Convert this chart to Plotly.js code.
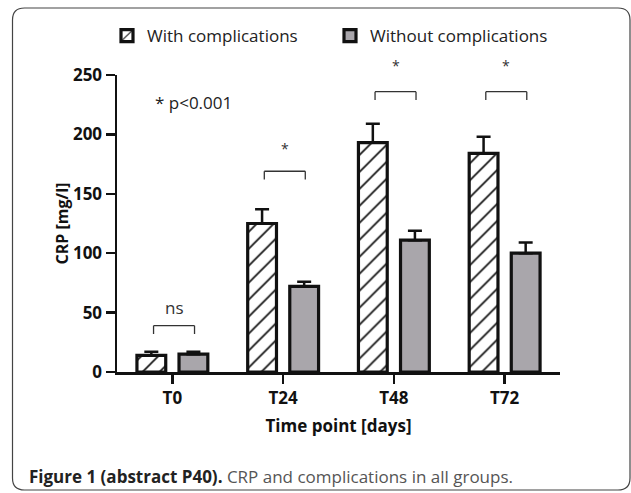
<!DOCTYPE html>
<html>
<head>
<meta charset="utf-8">
<script src="https://cdn.plot.ly/plotly-3.0.1.min.js"></script>
<style>html,body{margin:0;padding:0;background:#fff;}#chart{width:631px;height:493px;}</style>
</head>
<body>
<div id="chart"></div>
<script>
// ---- data ----
const categories = ["T0", "T24", "T48", "T72"];
const withComplications = [14, 125, 193, 184];
const withErr = [3, 12, 16, 14];
const withoutComplications = [15, 72, 111, 100];
const withoutErr = [2, 4, 8, 9];
const yTicks = [0, 50, 100, 150, 200, 250];
const sigLabels = ["ns", "*", "*", "*"];
const bracketY = [39, 169, 236, 236];
const sigLabelY = [54, 188, 258, 258];

// ---- layout helpers (pixel -> paper) ----
const W = 631, H = 493;
const M = {l: 117, r: 71, t: 75, b: 121};
const pw = W - M.l - M.r, ph = H - M.t - M.b;
const px = x => (x - M.l) / pw;
const py = y => (H - M.b - y) / ph;
const Y_MAX = 250;

const FONT = '"Open Sans", "Noto Sans", sans-serif';
const GRAY = '#a9a6ab';

const traces = [
  {
    type: 'bar', name: 'With complications',
    x: categories, y: withComplications,
    offset: -0.32, width: 0.26,
    marker: {color: '#ffffff', line: {color: '#111', width: 3.2},
             pattern: {shape: '/', fgcolor: '#111', bgcolor: '#ffffff', size: 12, solidity: 0.14}},
    error_y: {type: 'data', array: withErr, arrayminus: withErr.map(() => 0), symmetric: false,
              color: '#111', thickness: 2.5, width: 7},
    hoverinfo: 'y'
  },
  {
    type: 'bar', name: 'Without complications',
    x: categories, y: withoutComplications,
    offset: 0.06, width: 0.26,
    marker: {color: GRAY, line: {color: '#111', width: 3.2}},
    error_y: {type: 'data', array: withoutErr, arrayminus: withoutErr.map(() => 0), symmetric: false,
              color: '#111', thickness: 2.5, width: 7},
    hoverinfo: 'y'
  }
];

const shapes = [];
const annotations = [];
const bx0 = -0.17, bx1 = 0.2, leg = 7;
categories.forEach((c, i) => {
  const yb = bracketY[i];
  const ln = {color: '#333', width: 1.3};
  shapes.push({type: 'line', xref: 'x', yref: 'y', x0: i + bx0, x1: i + bx1, y0: yb, y1: yb, line: ln});
  shapes.push({type: 'line', xref: 'x', yref: 'y', x0: i + bx0, x1: i + bx0, y0: yb, y1: yb - leg, line: ln});
  shapes.push({type: 'line', xref: 'x', yref: 'y', x0: i + bx1, x1: i + bx1, y0: yb, y1: yb - leg, line: ln});
  // y given in paper units (value / max) so labels above the top of the axis are still drawn
  annotations.push({xref: 'x', yref: 'paper', x: i + (bx0 + bx1) / 2, y: sigLabelY[i] / Y_MAX, text: sigLabels[i],
    showarrow: false, xanchor: 'center', yanchor: 'middle',
    font: {family: FONT, size: sigLabels[i] === 'ns' ? 17 : 14, color: '#333'}});
});

annotations.push({xref: 'x', yref: 'paper', x: -0.175, y: 227 / Y_MAX, text: '* p<0.001', showarrow: false,
  xanchor: 'left', yanchor: 'middle', font: {family: FONT, size: 17, color: '#222'}});

annotations.push({xref: 'paper', yref: 'paper', x: px(27), y: py(476), xanchor: 'left', yanchor: 'middle',
  showarrow: false,
  text: '<b>Figure 1 (abstract P40).</b><span style="color:#555"> CRP and complications in all groups.</span>',
  font: {family: FONT, size: 17, color: '#222'}});

// rounded frame
const L = 12.5, T = 8, R = 630, B = 490, r = 12;
const P = (x, y) => px(x) + ',' + py(y);
shapes.push({type: 'path', xref: 'paper', yref: 'paper', layer: 'below',
  path: 'M' + P(L + r, T) + ' L' + P(R - r, T) + ' Q' + P(R, T) + ' ' + P(R, T + r) +
        ' L' + P(R, B - r) + ' Q' + P(R, B) + ' ' + P(R - r, B) +
        ' L' + P(L + r, B) + ' Q' + P(L, B) + ' ' + P(L, B - r) +
        ' L' + P(L, T + r) + ' Q' + P(L, T) + ' ' + P(L + r, T) + ' Z',
  line: {color: '#444', width: 1.2}, fillcolor: 'rgba(0,0,0,0)'});

const layout = {
  width: W, height: H,
  margin: M,
  paper_bgcolor: '#fff', plot_bgcolor: '#fff',
  font: {family: FONT, color: '#111'},
  showlegend: true,
  legend: {orientation: 'h', x: px(107), xanchor: 'left', y: py(36), yanchor: 'middle',
           font: {family: FONT, size: 17, color: '#222'}, itemwidth: 30, traceorder: 'normal',
           entrywidth: 178, entrywidthmode: 'pixels',
           bgcolor: 'rgba(0,0,0,0)'},
  xaxis: {
    type: 'category', range: [-0.5, 3.5], fixedrange: true,
    showline: true, linecolor: '#111', linewidth: 2.5,
    ticks: 'outside', ticklen: 9, tickwidth: 2.5, tickcolor: '#111',
    showgrid: false, zeroline: false,
    tickfont: {family: FONT, size: 17, color: '#111', weight: 'bold'},
    title: {text: '<b>Time point [days]</b>', standoff: 12, font: {family: FONT, size: 17, color: '#111'}}
  },
  yaxis: {
    range: [0, Y_MAX], fixedrange: true,
    tickvals: yTicks, ticktext: yTicks.map(String),
    showline: true, linecolor: '#111', linewidth: 2.5,
    ticks: 'outside', ticklen: 9, tickwidth: 2.5, tickcolor: '#111',
    showgrid: false, zeroline: false,
    tickfont: {family: FONT, size: 17, color: '#111', weight: 'bold'},
    title: {text: '<b>CRP [mg/l]</b>', standoff: 1, font: {family: FONT, size: 16, color: '#111'}}
  },
  bargap: 0,
  shapes: shapes,
  annotations: annotations
};

Plotly.newPlot('chart', traces, layout, {displayModeBar: false, staticPlot: true});
</script>
</body>
</html>
